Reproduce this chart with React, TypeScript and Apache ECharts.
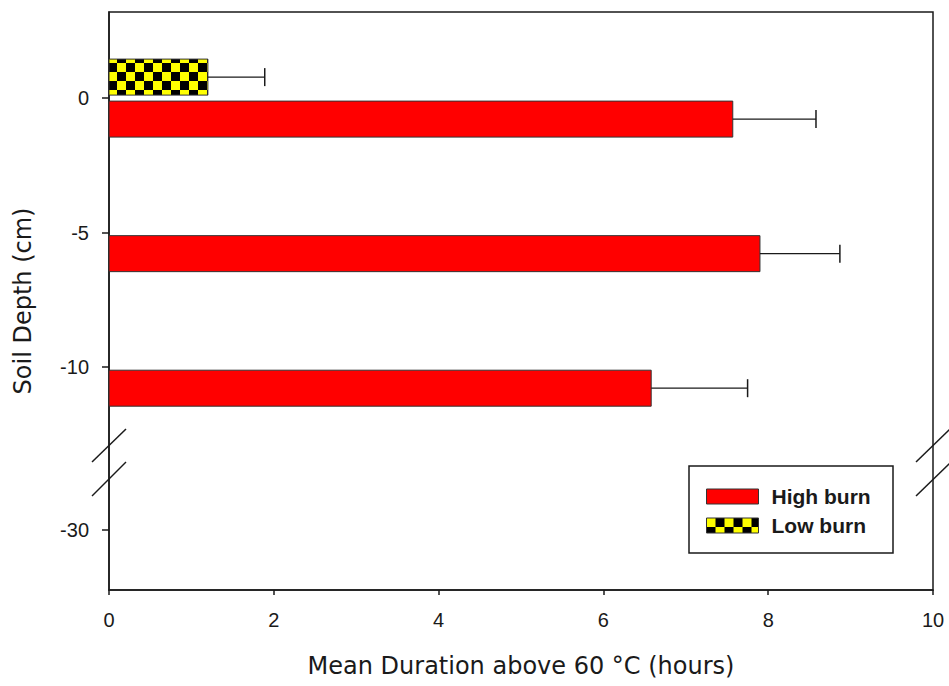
import React, { useEffect, useRef } from "react";
import * as echarts from "echarts";

// ---- data ----
const depthLabels = ["0", "-5", "-10", "-30"];
const depthValues = [0, -5, -10, -30];
const highBurnMeans: (number | null)[] = [7.57, 7.9, 6.58, null];
const highBurnErrors: (number | null)[] = [1.01, 0.97, 1.17, null];
const lowBurnMeans: (number | null)[] = [1.2, 0, 0, null];
const lowBurnErrors: (number | null)[] = [0.69, 0, 0, null];
const xTickValues = [0, 2, 4, 6, 8, 10];
const seriesNames = ["High burn", "Low burn"];

// broken depth axis: below -10 cm the scale is compressed
const BREAK_AT = -10;
const BREAK_SCALE = 0.302;
const toAxis = (d: number) => (d >= BREAK_AT ? d : BREAK_AT + (d - BREAK_AT) * BREAK_SCALE);

const TITLE_FONT = "'DejaVu Sans', sans-serif";
const LABEL_FONT = "'Liberation Sans', Arial, sans-serif";
const INK = "#1a1a1a";

function makeChecker(): HTMLCanvasElement {
  const c = document.createElement("canvas");
  c.width = 18;
  c.height = 18;
  const ctx = c.getContext("2d")!;
  ctx.fillStyle = "#ffff00";
  ctx.fillRect(0, 0, 18, 18);
  ctx.fillStyle = "#000000";
  ctx.fillRect(9, 0, 9, 9);
  ctx.fillRect(0, 9, 9, 9);
  return c;
}

function buildData(means: (number | null)[], errs: (number | null)[]) {
  const out: number[][] = [];
  depthValues.forEach((d, i) => {
    const m = means[i];
    if (m == null) return;
    out.push([m, toAxis(d), errs[i] ?? 0]);
  });
  return out;
}

const makeRender = (offset: number, fill: any) => (params: any, api: any) => {
  const x = api.value(0) as number;
  const y = api.value(1) as number;
  const err = api.value(2) as number;
  const p0 = api.coord([0, y]);
  const p1 = api.coord([x, y]);
  const pe = api.coord([x + err, y]);
  const cy = p0[1] + offset;
  const h = 36;
  const children: any[] = [];
  if (x > 0) {
    children.push({
      type: "rect",
      shape: { x: p0[0], y: cy - h / 2, width: p1[0] - p0[0], height: h },
      style: { fill, stroke: "#333", lineWidth: 1 },
    });
  }
  if (err > 0) {
    children.push({
      type: "line",
      shape: { x1: p1[0], y1: cy, x2: pe[0], y2: cy },
      style: { stroke: INK, lineWidth: 1.3 },
    });
    children.push({
      type: "line",
      shape: { x1: pe[0], y1: cy - 9, x2: pe[0], y2: cy + 9 },
      style: { stroke: INK, lineWidth: 1.5 },
    });
  }
  return { type: "group", children };
};

export default function App() {
  const ref = useRef<HTMLDivElement>(null);
  useEffect(() => {
    if (!ref.current) return;
    const chart = echarts.init(ref.current, undefined, { renderer: "svg" });
    const checker = { image: makeChecker(), repeat: "repeat", x: 1, y: 5 } as any;
    const red = "#ff0000";
    const depthPositions = depthValues.map(toAxis);
    const labelFor = (v: number) => {
      const i = depthPositions.findIndex((p) => Math.abs(p - v) < 1e-6);
      return i >= 0 ? depthLabels[i] : "";
    };
    const breakLine = (x1: number, y1: number, x2: number, y2: number) => ({
      type: "line",
      shape: { x1, y1, x2, y2 },
      style: { stroke: INK, lineWidth: 1.5 },
      z: 10,
    });
    chart.setOption({
      animation: false,
      backgroundColor: "#ffffff",
      textStyle: { fontFamily: LABEL_FONT },
      grid: {
        left: 109,
        right: 16,
        top: 12,
        bottom: 96,
        show: true,
        borderColor: INK,
        borderWidth: 1.5,
        containLabel: false,
        outerBoundsMode: "none",
      },
      xAxis: {
        type: "value",
        min: 0,
        max: 10,
        interval: 2,
        name: "Mean Duration above 60 °C (hours)",
        nameLocation: "middle",
        nameGap: 64,
        nameTextStyle: { fontFamily: TITLE_FONT, fontSize: 24, color: INK },
        axisLine: { show: true, onZero: false, lineStyle: { color: INK, width: 1.5 } },
        axisTick: { show: true, inside: false, length: 5, lineStyle: { color: INK, width: 1.5 } },
        axisLabel: {
          margin: 20,
          fontSize: 20,
          color: INK,
          fontFamily: LABEL_FONT,
          formatter: (v: number) => (xTickValues.includes(v) ? String(v) : ""),
        },
        splitLine: { show: false },
      },
      yAxis: {
        type: "value",
        min: -18.28,
        max: 3.2,
        name: "Soil Depth (cm)",
        nameLocation: "middle",
        nameGap: 74,
        nameRotate: 90,
        nameTextStyle: { fontFamily: TITLE_FONT, fontSize: 24, color: INK },
        axisLine: { show: true, onZero: false, lineStyle: { color: INK, width: 1.5 } },
        axisTick: {
          show: true,
          inside: false,
          length: 7,
          customValues: depthPositions,
          lineStyle: { color: INK, width: 1.5 },
        },
        axisLabel: {
          margin: 20,
          fontSize: 20,
          color: INK,
          fontFamily: LABEL_FONT,
          customValues: depthPositions,
          formatter: (v: number) => labelFor(v),
        },
        splitLine: { show: false },
      },
      legend: {
        show: true,
        orient: "vertical",
        left: 706,
        top: 486,
        padding: 0,
        icon: "rect",
        itemWidth: 52,
        itemHeight: 15,
        itemGap: 8,
        z: 20,
        textStyle: {
          fontFamily: LABEL_FONT,
          fontWeight: "bold",
          fontSize: 21,
          color: INK,
          padding: [0, 0, 0, 8],
        },
        data: [
          { name: seriesNames[0], itemStyle: { color: red, borderColor: "#333", borderWidth: 1 } },
          { name: seriesNames[1], itemStyle: { color: checker, borderColor: "#333", borderWidth: 1 } },
        ],
      },
      graphic: [
        {
          type: "rect",
          shape: { x: 689, y: 466, width: 204, height: 87 },
          style: { fill: "#ffffff", stroke: INK, lineWidth: 1.5 },
          z: 15,
        },
        breakLine(92, 462, 126, 429),
        breakLine(92, 496, 126, 462),
        breakLine(916, 462, 950, 429),
        breakLine(916, 496, 950, 463),
      ],
      series: [
        {
          name: seriesNames[0],
          type: "custom",
          itemStyle: { color: red },
          encode: { x: 0, y: 1 },
          renderItem: makeRender(21, red),
          data: buildData(highBurnMeans, highBurnErrors),
        },
        {
          name: seriesNames[1],
          type: "custom",
          itemStyle: { color: checker },
          encode: { x: 0, y: 1 },
          renderItem: makeRender(-21, checker),
          data: buildData(lowBurnMeans, lowBurnErrors),
        },
      ],
    });
    return () => chart.dispose();
  }, []);
  return (
    <div
      ref={ref}
      style={{ position: "fixed", left: 0, top: 0, width: 949, height: 686 }}
    />
  );
}
